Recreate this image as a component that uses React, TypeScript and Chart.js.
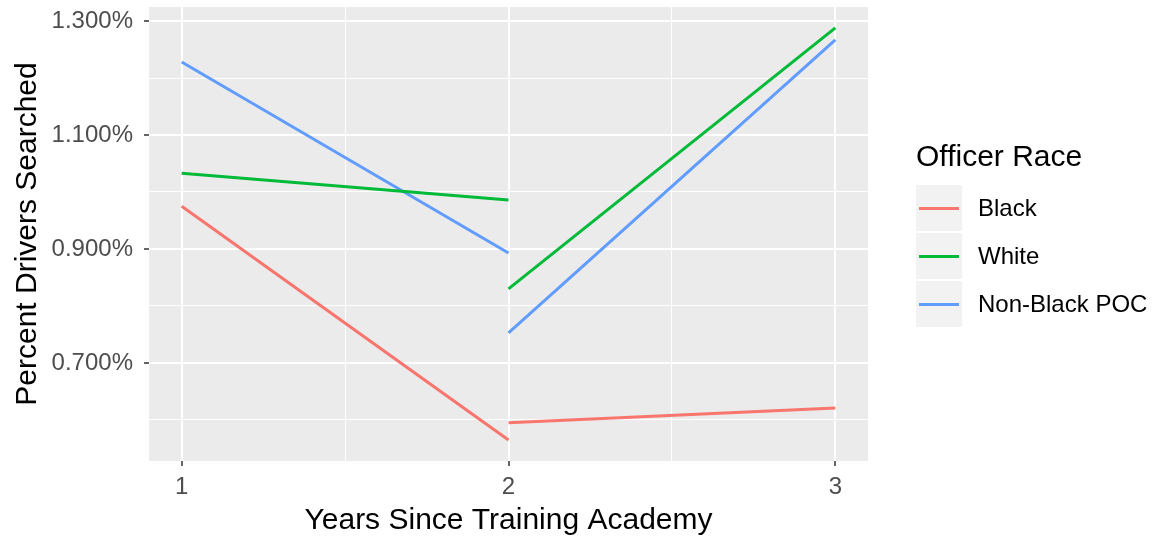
import React, { useEffect, useRef } from "react";
import { Chart, registerables } from "chart.js";

Chart.register(...registerables);

// ---- Data ----
const yearsFirst = [1, 2];
const yearsSecond = [2, 3];
const seriesNames = ["Black", "White", "Non-Black POC"];
const seriesColors = ["#F8766D", "#00BA38", "#619CFF"];
const blackFirst = [0.975, 0.565];
const blackSecond = [0.595, 0.621];
const whiteFirst = [1.033, 0.986];
const whiteSecond = [0.83, 1.288];
const pocFirst = [1.228, 0.893];
const pocSecond = [0.753, 1.267];
const yTickValues = [0.6, 0.7, 0.8, 0.9, 1.0, 1.1, 1.2, 1.3];
const xTickValues = [1, 1.5, 2, 2.5, 3];
const xTitle = "Years Since Training Academy";
const yTitle = "Percent Drivers Searched";
const legendTitle = "Officer Race";

const FONT = "'Liberation Sans', Arial, Helvetica, sans-serif";

function buildPoints(first: number[], second: number[]) {
  return [
    ...yearsFirst.map((x, i) => ({ x, y: first[i] })),
    { x: 2, y: null as any },
    ...yearsSecond.map((x, i) => ({ x, y: second[i] })),
  ];
}

const seriesValues = [
  [blackFirst, blackSecond],
  [whiteFirst, whiteSecond],
  [pocFirst, pocSecond],
];

const isMajorY = (v: number) => Math.round(v * 10) % 2 === 1;
const isMajorX = (v: number) => Math.abs(v - Math.round(v)) < 1e-6;

const panelBg = {
  id: "panelBg",
  beforeDraw(chart: any) {
    const { ctx, chartArea } = chart;
    if (!chartArea) return;
    ctx.save();
    ctx.fillStyle = "#EBEBEB";
    ctx.fillRect(chartArea.left, chartArea.top, chartArea.right - chartArea.left, chartArea.bottom - chartArea.top);
    ctx.restore();
  },
};

const zeroPad = (scale: any) => {
  scale.paddingTop = 0;
  scale.paddingBottom = 0;
  scale.paddingLeft = 0;
  scale.paddingRight = 0;
};

export default function App() {
  const canvasRef = useRef<HTMLCanvasElement | null>(null);

  useEffect(() => {
    document.body.style.margin = "0";
    const canvas = canvasRef.current;
    if (!canvas) return;
    const chart = new Chart(canvas, {
      type: "line",
      data: {
        datasets: seriesNames.map((name, i) => ({
          label: name,
          data: buildPoints(seriesValues[i][0], seriesValues[i][1]),
          borderColor: seriesColors[i],
          backgroundColor: seriesColors[i],
          borderWidth: 3,
          pointRadius: 0,
          spanGaps: false,
          tension: 0,
        })),
      },
      options: {
        responsive: false,
        animation: false,
        devicePixelRatio: 1,
        layout: { padding: { left: 0, top: 7, right: 287, bottom: 0 } },
        plugins: {
          legend: { display: false },
          tooltip: { enabled: false },
        },
        scales: {
          x: {
            type: "linear",
            min: 0.9,
            max: 3.1,
            afterBuildTicks: (scale: any) => {
              scale.ticks = xTickValues.map((v) => ({ value: v }));
            },
            afterFit: (scale: any) => {
              scale.height = 78;
              zeroPad(scale);
            },
            border: { display: false },
            grid: {
              color: "#FFFFFF",
              lineWidth: (ctx: any) => (isMajorX(ctx.tick.value) ? 2 : 1),
              drawTicks: true,
              tickLength: 5,
              tickWidth: 1.5,
              tickColor: (ctx: any) => (isMajorX(ctx.tick.value) ? "#333333" : "rgba(0,0,0,0)"),
            },
            ticks: {
              padding: 7,
              color: "#4D4D4D",
              font: { family: FONT, size: 24 },
              maxRotation: 0,
              autoSkip: false,
              callback: (v: any) => (isMajorX(Number(v)) ? String(Math.round(Number(v))) : ""),
            },
            title: {
              display: true,
              text: xTitle,
              color: "#000000",
              font: { family: FONT, size: 30 },
              padding: { top: 0, bottom: 0 },
            },
          },
          y: {
            type: "linear",
            min: 0.528,
            max: 1.3246,
            afterBuildTicks: (scale: any) => {
              scale.ticks = yTickValues.map((v) => ({ value: v }));
            },
            afterFit: (scale: any) => {
              scale.width = 149;
              zeroPad(scale);
            },
            border: { display: false },
            grid: {
              color: "#FFFFFF",
              lineWidth: (ctx: any) => (isMajorY(ctx.tick.value) ? 2 : 1),
              drawTicks: true,
              tickLength: 5,
              tickWidth: 1.5,
              tickColor: (ctx: any) => (isMajorY(ctx.tick.value) ? "#333333" : "rgba(0,0,0,0)"),
            },
            ticks: {
              padding: 11,
              color: "#4D4D4D",
              font: { family: FONT, size: 24 },
              autoSkip: false,
              callback: (v: any) => (isMajorY(Number(v)) ? Number(v).toFixed(3) + "%" : ""),
            },
            title: {
              display: true,
              text: yTitle,
              color: "#000000",
              font: { family: FONT, size: 30 },
              padding: { top: 10, bottom: 0 },
            },
          },
        },
      },
      plugins: [panelBg],
    } as any);
    return () => chart.destroy();
  }, []);

  const keyTops = [185, 233, 281];

  return (
    <div
      style={{
        position: "fixed",
        left: 0,
        top: 0,
        width: 1155,
        height: 539,
        background: "#FFFFFF",
        overflow: "hidden",
      }}
    >
      <canvas ref={canvasRef} width={1155} height={539} style={{ display: "block", width: 1155, height: 539 }} />
      <div
        style={{
          position: "absolute",
          left: 916,
          top: 141,
          fontFamily: FONT,
          fontSize: 30,
          lineHeight: "30px",
          color: "#000",
          whiteSpace: "nowrap",
        }}
      >
        {legendTitle}
      </div>
      {seriesNames.map((name, i) => (
        <React.Fragment key={name}>
          <div
            style={{
              position: "absolute",
              left: 916,
              top: keyTops[i],
              width: 46,
              height: 46,
              background: "#F2F2F2",
            }}
          >
            <div
              style={{
                position: "absolute",
                left: 3,
                top: 21.5,
                width: 40,
                height: 3,
                background: seriesColors[i],
              }}
            />
          </div>
          <div
            style={{
              position: "absolute",
              left: 978,
              top: keyTops[i] + 23 - 15,
              fontFamily: FONT,
              fontSize: 24,
              lineHeight: "30px",
              color: "#000",
              whiteSpace: "nowrap",
            }}
          >
            {name}
          </div>
        </React.Fragment>
      ))}
    </div>
  );
}
